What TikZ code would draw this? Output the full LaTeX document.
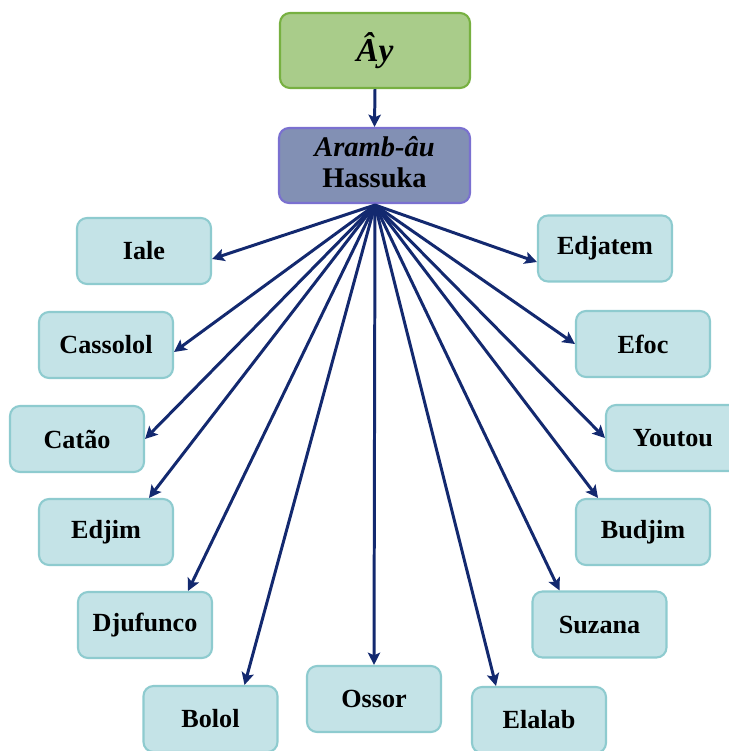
\documentclass[tikz,border=0pt]{standalone}
\usepackage{fontspec}
\setmainfont{Liberation Serif}
\usetikzlibrary{arrows.meta}

\definecolor{topfill}{HTML}{A9CC8A}
\definecolor{topline}{HTML}{77B041}
\definecolor{midfill}{HTML}{8290B4}
\definecolor{midline}{HTML}{7A70D0}
\definecolor{leaffill}{HTML}{C4E3E7}
\definecolor{leafline}{HTML}{8ECBCF}
\definecolor{arrowblue}{HTML}{13296F}

\tikzset{
  box/.style={draw, rounded corners=0.2cm, line width=1.2pt, inner sep=0pt,
              text=black},
  topbox/.style={box, fill=topfill, draw=topline, minimum width=3.8cm, minimum height=1.5cm,
                 font=\fontsize{19}{22}\selectfont\bfseries\itshape},
  midbox/.style={box, fill=midfill, draw=midline, minimum width=3.82cm, minimum height=1.5cm,
                 font=\fontsize{16.2}{18.8}\selectfont\bfseries},
  leaf/.style={box, fill=leaffill, draw=leafline, minimum width=2.68cm, minimum height=1.32cm,
               font=\fontsize{14.9}{17}\selectfont\bfseries},
  link/.style={draw=arrowblue, line width=1.7pt,
               -{Stealth[length=7pt, width=7pt, inset=1.5pt]}}
}

\begin{document}
\begin{tikzpicture}[x=0.02cm, y=-0.02cm]
  \useasboundingbox (0,0) rectangle (728,751);

  % top of the hierarchy
  \node[topbox] (ay) at (375,50.5) {Ây};
  \node[midbox] (aramb) at (374.5,165.5)
    {\begin{tabular}{@{}c@{}}\textbf{\textit{Aramb-âu}}\\[-1pt]\textbf{Hassuka}\end{tabular}};
  \coordinate (hub) at (375,205);

  % left branch
  \node[leaf] (iale)     at (144,251)   {Iale};
  \node[leaf] (cassolol) at (106,345)   {Cassolol};
  \node[leaf] (catao)    at (77,439)    {Catão};
  \node[leaf] (edjim)    at (106,532)   {Edjim};
  \node[leaf] (djufunco) at (145,625)   {Djufunco};
  \node[leaf] (bolol)    at (210.5,719) {Bolol};

  % bottom
  \node[leaf] (ossor)    at (374,699)   {Ossor};

  % right branch
  \node[leaf] (elalab)   at (539,720)   {Elalab};
  \node[leaf] (suzana)   at (599.5,624.5) {Suzana};
  \node[leaf] (budjim)   at (643,532)   {Budjim};
  \node[leaf] (youtou)   at (673,438)   {Youtou};
  \node[leaf] (efoc)     at (643,344)   {Efoc};
  \node[leaf] (edjatem)  at (605,248.5) {Edjatem};

  % connectors
  \draw[link] (ay.south) -- (aramb.north);

  \draw[link] (hub) -- ([yshift=-0.16cm]iale.east);
  \draw[link] (hub) -- ([yshift=-0.14cm]cassolol.east);
  \draw[link] (hub) -- (catao.east);
  \draw[link] (hub) -- ([xshift=0.86cm]edjim.north);
  \draw[link] (hub) -- ([xshift=0.86cm]djufunco.north);
  \draw[link] (hub) -- ([xshift=0.68cm]bolol.north);
  \draw[link] (hub) -- (ossor.north);
  \draw[link] (hub) -- ([xshift=-0.86cm]elalab.north);
  \draw[link] (hub) -- ([xshift=-0.80cm]suzana.north);
  \draw[link] (hub) -- ([xshift=-0.90cm]budjim.north);
  \draw[link] (hub) -- (youtou.west);
  \draw[link] (hub) -- (efoc.west);
  \draw[link] (hub) -- ([yshift=-0.27cm]edjatem.west);
\end{tikzpicture}
\end{document}
